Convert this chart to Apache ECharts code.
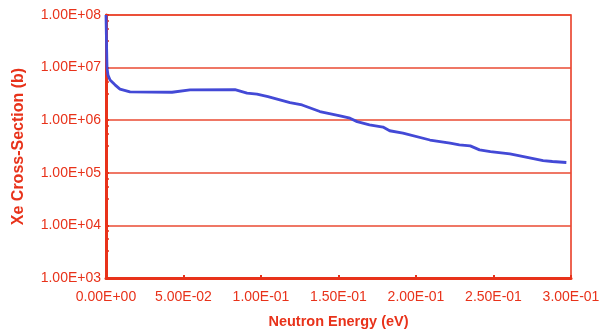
<!DOCTYPE html>
<html>
<head>
<meta charset="utf-8">
<script src="https://cdn.jsdelivr.net/npm/echarts@6/dist/echarts.min.js"></script>
<style>html,body{margin:0;padding:0;background:#fff}#c{width:604px;height:334px}</style>
</head>
<body>
<div id="c"></div>
<script>
// Neutron energy (eV)
const energy = [0, 0.0003, 0.00065, 0.0013, 0.0026, 0.0058, 0.009, 0.0155, 0.0426, 0.0542, 0.0832, 0.091, 0.0974, 0.1045, 0.1187, 0.1265, 0.138, 0.151, 0.1574, 0.162, 0.170, 0.1787, 0.183, 0.1916, 0.209, 0.222, 0.228, 0.235, 0.241, 0.248, 0.2606, 0.267, 0.282, 0.288, 0.297];
// Xe cross-section (b)
const crossSection = [1.0e8, 3.35e7, 1.0e7, 7.2e6, 5.8e6, 4.7e6, 3.9e6, 3.45e6, 3.4e6, 3.77e6, 3.8e6, 3.26e6, 3.12e6, 2.81e6, 2.16e6, 1.95e6, 1.46e6, 1.21e6, 1.09e6, 9.4e5, 8.15e5, 7.4e5, 6.3e5, 5.7e5, 4.2e5, 3.66e5, 3.4e5, 3.25e5, 2.73e5, 2.53e5, 2.29e5, 2.1e5, 1.71e5, 1.64e5, 1.57e5];
const xTicks = [0, 0.05, 0.1, 0.15, 0.2, 0.25, 0.3];
const yTicks = [1e3, 1e4, 1e5, 1e6, 1e7, 1e8];

const red = '#e8321a';
function sci(v) {
  const s = Number(v).toExponential(2);
  const m = s.split('e');
  let exp = parseInt(m[1], 10);
  const sign = exp < 0 ? '-' : '+';
  exp = Math.abs(exp);
  return m[0] + 'E' + sign + (exp < 10 ? '0' + exp : '' + exp);
}
const chart = echarts.init(document.getElementById('c'));
chart.setOption({
  animation: false,
  textStyle: { fontFamily: 'Liberation Sans, Arial, sans-serif' },
  grid: { left: 106, right: 33, top: 15, bottom: 56, show: true, borderColor: red, borderWidth: 1.5, backgroundColor: 'transparent' },
  xAxis: {
    type: 'value', min: xTicks[0], max: xTicks[xTicks.length - 1], interval: 0.05,
    name: 'Neutron Energy (eV)', nameLocation: 'middle', nameGap: 36,
    nameTextStyle: { color: red, fontWeight: 'bold', fontSize: 14.5 },
    axisLine: { show: true, lineStyle: { color: red, width: 3 } },
    axisTick: { show: true, inside: true, length: 3, lineStyle: { color: red, width: 2 } },
    axisLabel: { color: red, fontSize: 14, margin: 12, formatter: sci },
    splitLine: { show: false }
  },
  yAxis: {
    type: 'log', logBase: 10, min: yTicks[0], max: yTicks[yTicks.length - 1],
    name: 'Xe Cross-Section (b)', nameLocation: 'middle', nameGap: 79,
    nameTextStyle: { color: red, fontWeight: 'bold', fontSize: 16 },
    axisLine: { show: true, lineStyle: { color: red, width: 3 } },
    axisTick: { show: true, inside: true, length: 3, lineStyle: { color: red, width: 2 } },
    minorTick: { show: true, splitNumber: 4, length: 3, lineStyle: { color: red, width: 1.5 } },
    axisLabel: { color: red, fontSize: 14, margin: 5, formatter: sci },
    splitLine: { show: true, lineStyle: { color: '#ea4a32', width: 1.5 } }
  },
  series: [{
    type: 'line',
    data: energy.map((e, i) => [e, crossSection[i]]),
    showSymbol: false,
    smooth: false,
    lineStyle: { color: '#4349d6', width: 2.8 }
  }]
});
</script>
</body>
</html>
